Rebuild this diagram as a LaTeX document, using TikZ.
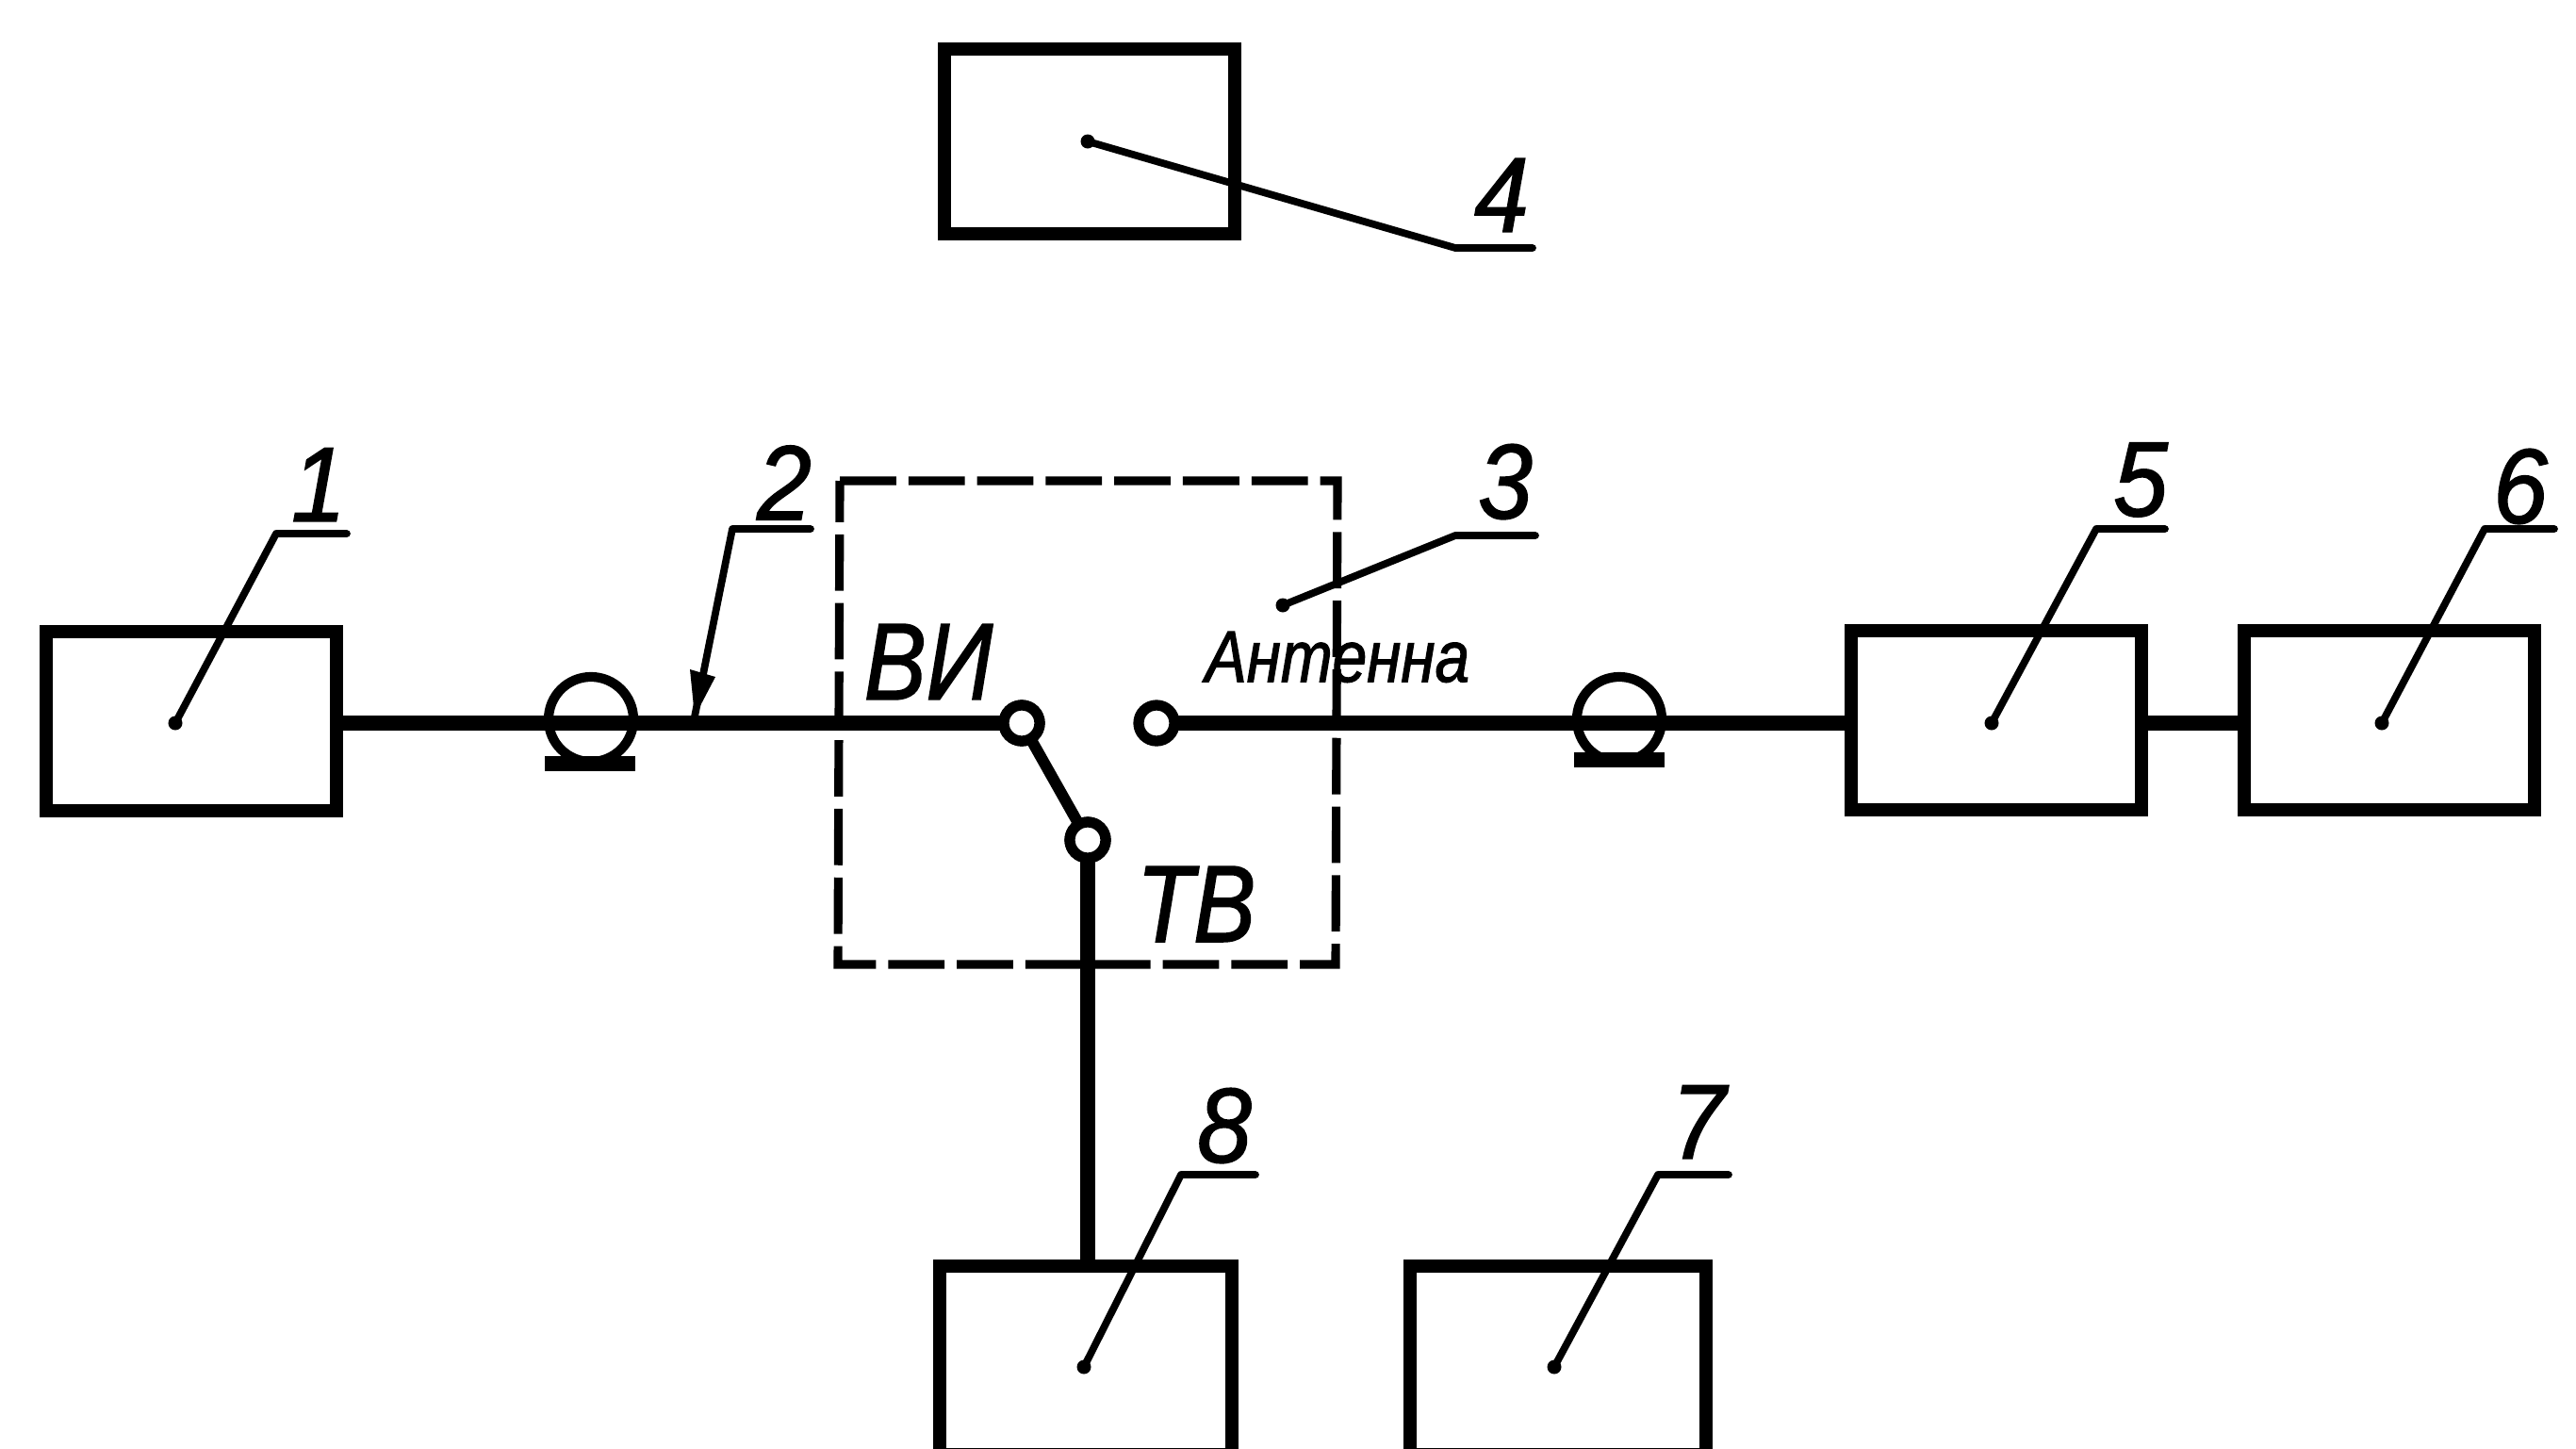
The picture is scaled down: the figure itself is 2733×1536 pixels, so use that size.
\documentclass[tikz,border=0pt]{standalone}
\usepackage{fontspec}
\setmainfont{Liberation Sans}
\newfontfamily\drafting[FakeStretch=0.85,FakeBold=1.4]{Liberation Sans Italic}
\newfontfamily\draftnum[FakeStretch=0.92,FakeBold=1.4]{Liberation Sans Italic}
\tikzset{
  x=0.01cm,y=-0.01cm,
  boxnode/.style={draw=black,line width=4pt,minimum width=3.07cm,minimum height=1.9cm,inner sep=0pt,outer sep=0pt},
  mainline/.style={line width=4.4pt},
  swline/.style={line width=3.4pt},
  leader/.style={line width=2.2pt,line cap=round,line join=round},
  dotstart/.style={circle,fill=black,inner sep=0pt,minimum size=0.15cm},
  terminal/.style={circle,draw=black,fill=white,line width=3.2pt,inner sep=0pt,outer sep=0pt,minimum size=0.38cm},
  reel/.style={circle,draw=black,line width=2.9pt,inner sep=0pt,outer sep=0pt,minimum size=0.9cm},
  plate/.style={fill=black,inner sep=0pt,outer sep=0pt,minimum width=0.96cm,minimum height=0.16cm},
  dashbox/.style={line width=2.6pt,dash pattern=on 17pt off 3.7pt},
  num/.style={inner sep=0pt,outer sep=0pt,font=\draftnum\fontsize{32}{32}\selectfont},
  lab/.style={inner sep=0pt,outer sep=0pt,font=\drafting\fontsize{33}{33}\selectfont},
  smalllab/.style={inner sep=0pt,outer sep=0pt,font=\drafting\fontsize{22}{22}\selectfont},
}
\begin{document}
\begin{tikzpicture}
\useasboundingbox (0,0) rectangle (2733,1536);
% boxes
\node[boxnode] (b1) at (203,765) {};
\node[boxnode,minimum height=1.95cm] (b4) at (1156,150) {};
\node[boxnode] (b5) at (2118,764) {};
\node[boxnode] (b6) at (2535,764) {};
\node[boxnode,minimum width=3.09cm,minimum height=1.99cm] (b8) at (1152,1443) {};
\node[boxnode,minimum width=3.14cm,minimum height=1.99cm] (b7) at (1653,1443) {};
% dashed enclosure
\coordinate (d1) at (891,510);
\coordinate (d2) at (1419,510);
\coordinate (d3) at (1417,1023);
\coordinate (d4) at (889,1023);
\draw[dashbox] (d1) -- (d2) -- (d3) -- (d4) -- cycle;
% reels
\node[reel] (r1) at (627,763) {};
\node[plate] (p1) at (626,810) {};
\node[reel] (r2) at (1718,763) {};
\node[plate] (p2) at (1718,806) {};
% switch
\node[terminal] (s1) at (1084,767) {};
\node[terminal] (s2) at (1227,767) {};
\node[terminal] (s3) at (1154,891) {};
% connectors
\coordinate (b1e) at (b1.east |- s1);
\coordinate (b5w) at (b5.west |- s1);
\coordinate (b5e) at (b5.east |- s1);
\coordinate (b6w) at (b6.west |- s1);
\coordinate (b8n) at (s3 |- b8.north);
\draw[mainline] (b1e) -- (s1.west);
\draw[mainline] (s2.east) -- (b5w);
\draw[mainline] (b5e) -- (b6w);
\draw[mainline] (s3.south) -- (b8n);
\draw[swline] (s1) -- (s3);
\node[terminal] at (s1) {};
\node[terminal] at (s3) {};
% leaders
\node[dotstart] (l1) at (186,767) {};
\coordinate (k1) at (293,566); \coordinate (e1) at (368,566);
\draw[leader] (l1.center) -- (k1) -- (e1);
\coordinate (k2) at (777,561); \coordinate (e2) at (860,561); \coordinate (t2) at (737,760);
\draw[leader] (e2) -- (k2) -- (t2);
\fill (t2) -- ++(-5,-50) -- ++(27,8) -- cycle;
\node[dotstart] (l3) at (1361,642) {};
\coordinate (k3) at (1544,568); \coordinate (e3) at (1629,568);
\draw[leader] (l3.center) -- (k3) -- (e3);
\node[dotstart] (l4) at (1154,150) {};
\coordinate (k4) at (1544,263); \coordinate (e4) at (1626,263);
\draw[leader] (l4.center) -- (k4) -- (e4);
\node[dotstart] (l5) at (2113,767) {};
\coordinate (k5) at (2224,561); \coordinate (e5) at (2297,561);
\draw[leader] (l5.center) -- (k5) -- (e5);
\node[dotstart] (l6) at (2527,767) {};
\coordinate (k6) at (2636,561); \coordinate (e6) at (2710,561);
\draw[leader] (l6.center) -- (k6) -- (e6);
\node[dotstart] (l8) at (1150,1450) {};
\coordinate (k8) at (1253,1246); \coordinate (e8) at (1332,1246);
\draw[leader] (l8.center) -- (k8) -- (e8);
\node[dotstart] (l7) at (1649,1450) {};
\coordinate (k7) at (1759,1246); \coordinate (e7) at (1834,1246);
\draw[leader] (l7.center) -- (k7) -- (e7);
% labels
\node[num] (n1) at (338,514) {1};
\node[num] (n2) at (832,512) {2};
\node[num] (n3) at (1597,511) {3};
\node[num] (n4) at (1593,207) {4};
\node[num] (n5) at (2271,509) {5};
\node[num] (n6) at (2674,516) {6};
\node[num] (n7) at (1802,1190) {7};
\node[num] (n8) at (1299,1194) {8};
\node[lab] (vi) at (985,702) {ВИ};
\node[lab] (tv) at (1269,959) {ТВ};
\node[smalllab] (ant) at (1419,697) {Антенна};
\end{tikzpicture}
\end{document}
